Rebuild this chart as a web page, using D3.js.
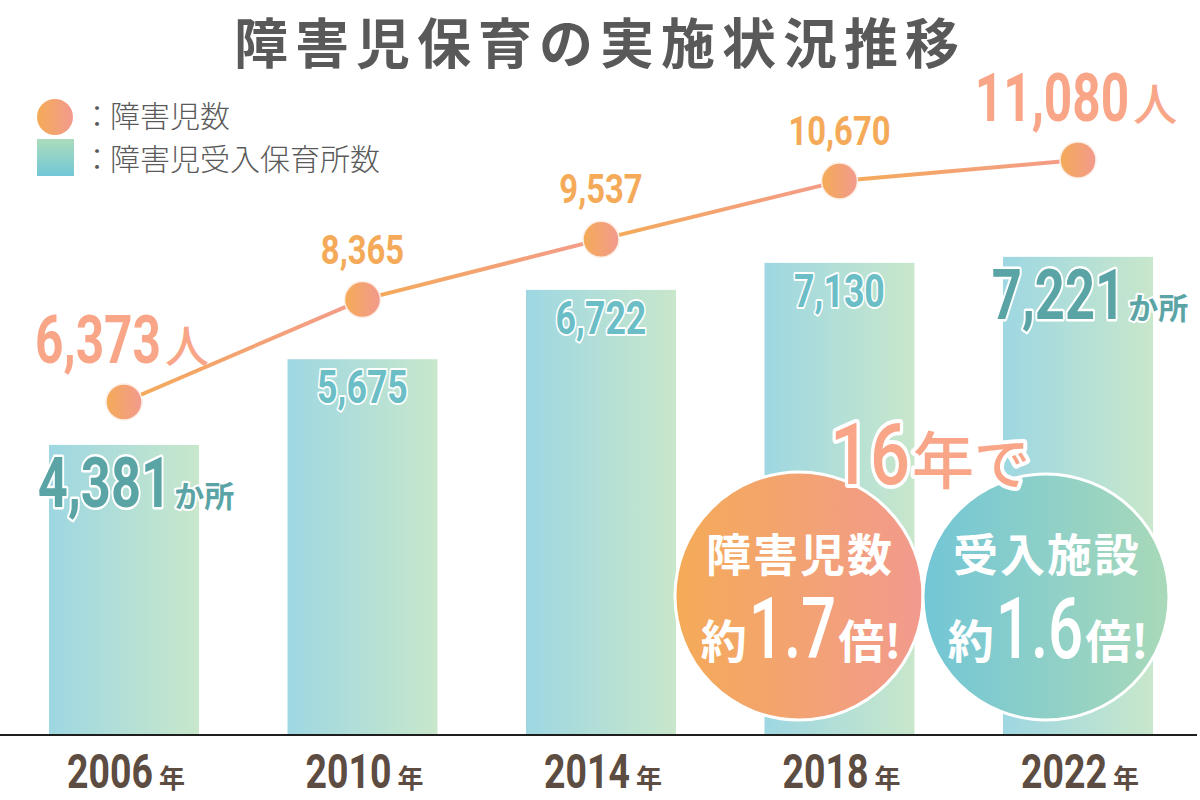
<!DOCTYPE html>
<html>
<head>
<meta charset="utf-8">
<title>障害児保育の実施状況推移</title>
<script src="https://d3js.org/d3.v7.min.js"></script>
<style>
  body { margin: 0; background: #fff; }
  svg { display: block; }
</style>
</head>
<body>
<svg id="chart" width="1200" height="800"></svg>
<script>
// data
const years = ["2006", "2010", "2014", "2018", "2022"];
const children = [6373, 8365, 9537, 10670, 11080];     // 障害児数 (人)
const facilities = [4381, 5675, 6722, 7130, 7221];     // 障害児受入保育所数 (か所)

const NUM = "Roboto, 'Liberation Sans', sans-serif";
const JP = "'Noto Sans CJK JP', 'Noto Sans', sans-serif";
const fmt = d3.format(",");

const svg = d3.select("#chart");
const defs = svg.append("defs");

function grad(id, c1, c2, vertical) {
  const g = defs.append("linearGradient").attr("id", id)
    .attr("x1", 0).attr("y1", 0)
    .attr("x2", vertical ? 0 : 1).attr("y2", vertical ? 1 : 0);
  g.append("stop").attr("offset", "0%").attr("stop-color", c1);
  g.append("stop").attr("offset", "100%").attr("stop-color", c2);
}
grad("barGrad", "#9ed7e2", "#c8e7cb");
grad("dotGrad", "#f4ab57", "#f29a8e");
grad("lineGrad", "#f4ab57", "#f39b8c");
grad("legSq", "#abdcbc", "#72c7d6", true);
grad("tealGrad", "#72c6d6", "#a9d9b9");

// text made of several pieces, each with its own size / horizontal squeeze
function rich(parent, parts, x, y, anchor) {
  const g = parent.append("g");
  let cx = 0;
  parts.forEach(p => {
    const sx = p.sx || 1;
    const t = g.append("text")
      .text(p.text)
      .attr("font-family", p.family || NUM)
      .attr("font-size", p.size)
      .attr("font-weight", p.weight || 700)
      .attr("fill", p.fill);
    if (p.ls) t.attr("letter-spacing", p.ls);
    if (p.stroke) {
      t.attr("stroke", p.stroke).attr("stroke-width", p.sw)
        .attr("stroke-linejoin", "round").attr("paint-order", "stroke");
    }
    const w = t.node().getComputedTextLength() * sx;
    t.attr("transform", `translate(${cx},0) scale(${sx},1)`);
    cx += w + (p.gap || 0);
  });
  const off = anchor === "middle" ? -cx / 2 : anchor === "end" ? -cx : 0;
  g.attr("transform", `translate(${x + off},${y})`);
  return g;
}

// scales
const x = d3.scalePoint().domain(years).range([124, 1078]);
const barW = 150;
const yBar = d3.scaleLinear().domain([0, 11100]).range([735, 0]);
const yLine = d3.scaleLinear().domain([6373, 11080]).range([402, 160]);

// title
svg.append("text")
  .attr("x", 600).attr("y", 64)
  .attr("text-anchor", "middle")
  .attr("font-family", JP).attr("font-size", 54).attr("font-weight", 700)
  .attr("letter-spacing", 7)
  .attr("fill", "#595959")
  .text("障害児保育の実施状況推移");

// legend
svg.append("circle").attr("cx", 55).attr("cy", 117).attr("r", 18).attr("fill", "url(#dotGrad)");
svg.append("rect").attr("x", 37).attr("y", 139).attr("width", 37).attr("height", 37).attr("fill", "url(#legSq)");
[["障害児数", 127], ["障害児受入保育所数", 170]].forEach(([t, yy]) => {
  svg.append("text").attr("x", 82).attr("y", yy)
    .attr("font-family", JP).attr("font-size", 30).attr("font-weight", 300).attr("fill", "#5a5a5a")
    .text("：");
  svg.append("text").attr("x", 110).attr("y", yy)
    .attr("font-family", JP).attr("font-size", 30).attr("font-weight", 300).attr("fill", "#5a5a5a")
    .text(t);
});

// bars
svg.append("g").selectAll("rect")
  .data(facilities)
  .join("rect")
  .attr("x", (d, i) => x(years[i]) - barW / 2)
  .attr("y", d => yBar(d))
  .attr("width", barW)
  .attr("height", d => yBar(0) - yBar(d))
  .attr("fill", "url(#barGrad)");

// baseline
svg.append("line")
  .attr("x1", 0).attr("x2", 1197)
  .attr("y1", yBar(0)).attr("y2", yBar(0))
  .attr("stroke", "#1e1e1e").attr("stroke-width", 2);

// bar labels
const barLab = svg.append("g");
facilities.forEach((v, i) => {
  const big = i === 0 || i === facilities.length - 1;
  const cx = x(years[i]);
  if (big) {
    rich(barLab, [
      { text: fmt(v), size: 70, sx: 0.75, fill: "#5ba4a5", stroke: "#fff", sw: 5, gap: 3 },
      { text: "か所", size: 30, family: JP, fill: "#5ba4a5", stroke: "#fff", sw: 4 }
    ], cx + 12, yBar(v) + 62, "middle");
  } else {
    rich(barLab, [
      { text: fmt(v), size: 47, sx: 0.76, fill: "#6bbec6", stroke: "#fff", sw: 4 }
    ], cx, yBar(v) + 44, "middle");
  }
});

// line
const pts = children.map((v, i) => [x(years[i]), yLine(v)]);
svg.append("g").selectAll("path")
  .data(d3.pairs(pts))
  .join("path")
  .attr("d", d => d3.line()(d))
  .attr("fill", "none")
  .attr("stroke", "url(#lineGrad)")
  .attr("stroke-width", 4);

svg.append("g").selectAll("circle")
  .data(pts)
  .join("circle")
  .attr("cx", d => d[0]).attr("cy", d => d[1]).attr("r", 18)
  .attr("fill", "url(#dotGrad)")
  .attr("stroke", "#fdeee6").attr("stroke-width", 1.5);

// line labels
const lineLab = svg.append("g");
children.forEach((v, i) => {
  const big = i === 0 || i === children.length - 1;
  const cx = x(years[i]);
  if (big) {
    rich(lineLab, [
      { text: fmt(v), size: 67, sx: 0.74, fill: "#f8a588", gap: 4 },
      { text: "人", size: 44, weight: 500, family: JP, fill: "#f8a588" }
    ], cx - 2, yLine(v) - 39, "middle");
  } else {
    rich(lineLab, [
      { text: fmt(v), size: 41, sx: 0.8, fill: "#f4aa58" }
    ], cx, yLine(v) - 36, "middle");
  }
});

// x axis labels
const axLab = svg.append("g");
years.forEach(yr => {
  rich(axLab, [
    { text: yr, size: 48, sx: 0.78, fill: "#5d4c41", gap: 6 },
    { text: "年", size: 26, family: JP, fill: "#5d4c41" }
  ], x(yr) + 2, 788, "middle");
});

// growth callouts
const n = children.length - 1;
const span = +years[n] - +years[0];
const rChild = Math.floor(children[n] / children[0] * 10) / 10;
const rFac = Math.floor(facilities[n] / facilities[0] * 10) / 10;

const callout = svg.append("g");
callout.append("circle").attr("cx", 799).attr("cy", 596).attr("r", 124)
  .attr("fill", "url(#dotGrad)").attr("stroke", "#fff").attr("stroke-width", 3);
callout.append("circle").attr("cx", 1046).attr("cy", 597).attr("r", 123)
  .attr("fill", "url(#tealGrad)").attr("stroke", "#fff").attr("stroke-width", 3);

[[799, "障害児数", rChild], [1046, "受入施設", rFac]].forEach(([cx, label, r]) => {
  callout.append("text")
    .attr("x", cx + 1).attr("y", 572)
    .attr("text-anchor", "middle")
    .attr("font-family", JP).attr("font-size", 45).attr("font-weight", 700)
    .attr("letter-spacing", 2)
    .attr("fill", "#fff")
    .text(label);
  rich(callout, [
    { text: "約", size: 46, family: JP, fill: "#fff", gap: 2 },
    { text: r.toFixed(1), size: 86, weight: 500, sx: 0.72, fill: "#fff", gap: 2 },
    { text: "倍!", size: 46, family: JP, fill: "#fff" }
  ], cx + 2, 658, "middle");
});

rich(callout, [
  { text: String(span), size: 86, weight: 500, sx: 0.82, fill: "#f8a588", stroke: "#fff", sw: 8, gap: 2 },
  { text: "年", size: 62, weight: 500, family: JP, fill: "#f8a588", stroke: "#fff", sw: 8, gap: 0 },
  { text: "で", size: 56, weight: 500, family: JP, fill: "#f8a588", stroke: "#fff", sw: 8 }
], 930, 484, "middle");
</script>
</body>
</html>
